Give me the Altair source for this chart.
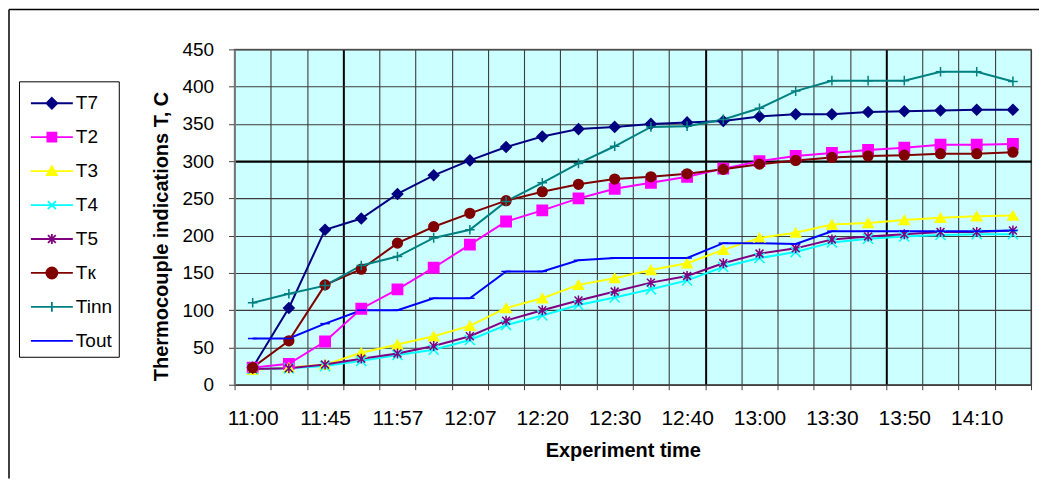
import json
import altair as alt
import pandas as pd

# ---------------- data ----------------
time_labels = ["11:00", "11:45", "11:57", "12:07", "12:20", "12:30",
               "12:40", "13:00", "13:30", "13:50", "14:10"]  # every other reading is labelled
series = ["T7", "T2", "T3", "T4", "T5", "Tк", "Tinn", "Tout"]

T7 = [23, 103, 208, 223, 256, 281, 301, 319, 333, 343, 346, 350, 352, 354, 360, 363, 363, 366, 367, 368, 369, 369]
T2 = [23, 28, 58, 102, 128, 157, 188, 219, 234, 250, 263, 271, 279, 290, 300, 307, 311, 315, 318, 322, 322, 323]
T3 = [20, 23, 27, 43, 54, 65, 79, 103, 116, 134, 143, 154, 163, 181, 197, 204, 215, 217, 221, 224, 226, 227]
T4 = [21, 22, 25, 32, 40, 47, 60, 80, 93, 107, 117, 128, 140, 158, 170, 178, 191, 196, 199, 201, 202, 202]
T5 = [21, 22, 27, 35, 42, 52, 65, 86, 100, 113, 125, 137, 146, 163, 176, 183, 195, 199, 202, 205, 205, 207]
TK = [23, 59, 134, 155, 190, 212, 230, 247, 259, 269, 276, 279, 283, 289, 296, 301, 305, 307, 308, 310, 310, 312]
TINN = [110, 122, 133, 160, 172, 197, 208, 246, 271, 297, 320, 346, 347, 356, 371, 394, 408, 408, 408, 420, 420, 407]
TOUT = [62, 62, 82, 100, 100, 116, 116, 152, 152, 167, 170, 170, 170, 190, 190, 189, 206, 206, 206, 206, 206, 207]

values_by_series = [T7, T2, T3, T4, T5, TK, TINN, TOUT]

# ---------------- style ----------------
colors = ["#000080", "#FF00FF", "#FFFF00", "#00FFFF", "#800080", "#800000", "#008080", "#0000FF"]
marker_shapes = [
    "diamond",
    "square",
    "triangle-up",
    "M-1,-1L1,1M-1,1L1,-1",
    "M0,-1L0,1M-0.8,-0.8L0.8,0.8M-0.8,0.8L0.8,-0.8",
    "circle",
    "M-1,0L1,0M0,-1L0,1",
    "M-1,0L1,0",
]
marker_sizes = [110, 90, 90, 64, 81, 130, 100, 36]

# legend symbols: a line with the marker in its middle
c = 0.73
line_part = "M-0.67,0L2.13,0"
legend_shapes = [
    line_part + f"M{c},-0.36L{c+0.36},0L{c},0.36L{c-0.36},0Z",
    line_part + f"M{c-0.3},-0.3L{c+0.3},-0.3L{c+0.3},0.3L{c-0.3},0.3Z",
    line_part + f"M{c},-0.33L{c+0.34},0.27L{c-0.34},0.27Z",
    line_part + f"M{c-0.27},-0.27L{c+0.27},0.27M{c-0.27},0.27L{c+0.27},-0.27",
    line_part + f"M{c},-0.33L{c},0.33M{c-0.26},-0.26L{c+0.26},0.26M{c-0.26},0.26L{c+0.26},-0.26",
    line_part + f"M{c-0.37},0A0.37,0.37,0,1,0,{c+0.37},0A0.37,0.37,0,1,0,{c-0.37},0Z",
    line_part + f"M{c},-0.33L{c},0.33",
    line_part,
]

rows = []
for name, vals in zip(series, values_by_series):
    for i, v in enumerate(vals):
        rows.append({"series": name, "idx": i, "value": v})
df = pd.DataFrame(rows)

n = len(T7)
FONT = "Liberation Sans"

x_edges = [k / 2 - 0.5 for k in range(2 * n + 1)]
thick_x = [2.5, 12.5, 17.5]
label_expr = ("datum.value % 2 == 0 ? " + json.dumps(time_labels) +
              "[datum.value / 2] : ''")

x_enc = alt.X(
    "idx:Q",
    scale=alt.Scale(domain=[-0.5, n - 0.5], nice=False, zero=False),
    axis=alt.Axis(
        values=x_edges,
        labelExpr=label_expr,
        labelOverlap=False,
        labelFlush=False,
        labelFont=FONT,
        labelFontSize=21,
        labelColor="black",
        labelPadding=18,
        tickSize=5,
        tickColor="#404040",
        tickOpacity={"condition": {"test": "datum.value % 1 != 0", "value": 1}, "value": 0},
        grid=True,
        gridOpacity={"condition": {"test": "datum.value % 1 != 0", "value": 1}, "value": 0},
        gridColor={"condition": {"test": "indexof(" + json.dumps(thick_x) + ", datum.value) >= 0",
                                 "value": "#000000"}, "value": "#3c3c3c"},
        gridWidth={"condition": {"test": "indexof(" + json.dumps(thick_x) + ", datum.value) >= 0",
                                 "value": 2}, "value": 1.1},
        domainColor="#404040",
        domainWidth=1.5,
        title="Experiment time",
        titleFont=FONT,
        titleFontSize=20,
        titleFontWeight="bold",
        titleColor="black",
        titlePadding=12,
        titleX=389,
    ),
)

y_enc = alt.Y(
    "value:Q",
    scale=alt.Scale(domain=[0, 450], nice=False),
    axis=alt.Axis(
        values=list(range(0, 451, 50)),
        labelFont=FONT,
        labelFontSize=19,
        labelColor="black",
        labelPadding=15,
        tickSize=6,
        tickColor="#404040",
        grid=True,
        gridColor={"condition": {"test": "datum.value == 300", "value": "#000000"}, "value": "#3c3c3c"},
        gridWidth={"condition": {"test": "datum.value == 300", "value": 2.2}, "value": 1.1},
        domainColor="#808080",
        domainWidth=1.5,
        title="Thermocouple indications T, C",
        titleFont=FONT,
        titleFontSize=20,
        titleFontWeight="bold",
        titleColor="black",
        titlePadding=10,
        titleY=187,
    ),
)

base = alt.Chart(df)

lines = base.mark_line(strokeWidth=2).encode(
    x=x_enc,
    y=y_enc,
    color=alt.Color("series:N", scale=alt.Scale(domain=series, range=colors), legend=None),
)

points = base.mark_point(opacity=1, strokeWidth=1.5).encode(
    x=x_enc,
    y=y_enc,
    shape=alt.Shape("series:N", scale=alt.Scale(domain=series, range=marker_shapes), legend=None),
    fill=alt.Fill("series:N", scale=alt.Scale(domain=series, range=colors), legend=None),
    stroke=alt.Stroke("series:N", scale=alt.Scale(domain=series, range=colors), legend=None),
    size=alt.Size("series:N", scale=alt.Scale(domain=series, range=marker_sizes), legend=None),
)

leg = alt.Legend(
    title=None,
    orient="none",
    legendX=-216,
    legendY=32,
    strokeColor="black",
    fillColor="white",
    padding=6,
    symbolSize=900,
    symbolStrokeWidth=1.8,
    labelFont=FONT,
    labelFontSize=19,
    labelColor="black",
    labelOffset=19,
    rowPadding=8,
    direction="vertical",
)

legend_layer = base.transform_filter("false").mark_point(opacity=1, strokeWidth=1.8).encode(
    x=x_enc,
    y=y_enc,
    shape=alt.Shape("series:N", scale=alt.Scale(domain=series, range=legend_shapes), legend=leg),
    fill=alt.Fill("series:N", scale=alt.Scale(domain=series, range=colors), legend=leg),
    stroke=alt.Stroke("series:N", scale=alt.Scale(domain=series, range=colors), legend=leg),
)

frame_src = pd.DataFrame({"k": [0]})
frame_top = alt.Chart(frame_src).mark_rule(color="black", strokeWidth=1.5).encode(
    x=alt.value(-226), x2=alt.value(806), y=alt.value(-40)
)
frame_left = alt.Chart(frame_src).mark_rule(color="black", strokeWidth=1.5).encode(
    x=alt.value(-226), y=alt.value(-40), y2=alt.value(430)
)

chart = (
    alt.layer(lines, points, legend_layer, frame_top, frame_left)
    .resolve_scale(shape="independent", fill="independent", stroke="independent")
    .properties(width=798, height=336, padding=0, background="white")
    .configure_view(fill="#CCFFFF", stroke="#808080", strokeWidth=1.5)
)

chart.save("out.html", embed_options={"renderer": "svg", "actions": False})
